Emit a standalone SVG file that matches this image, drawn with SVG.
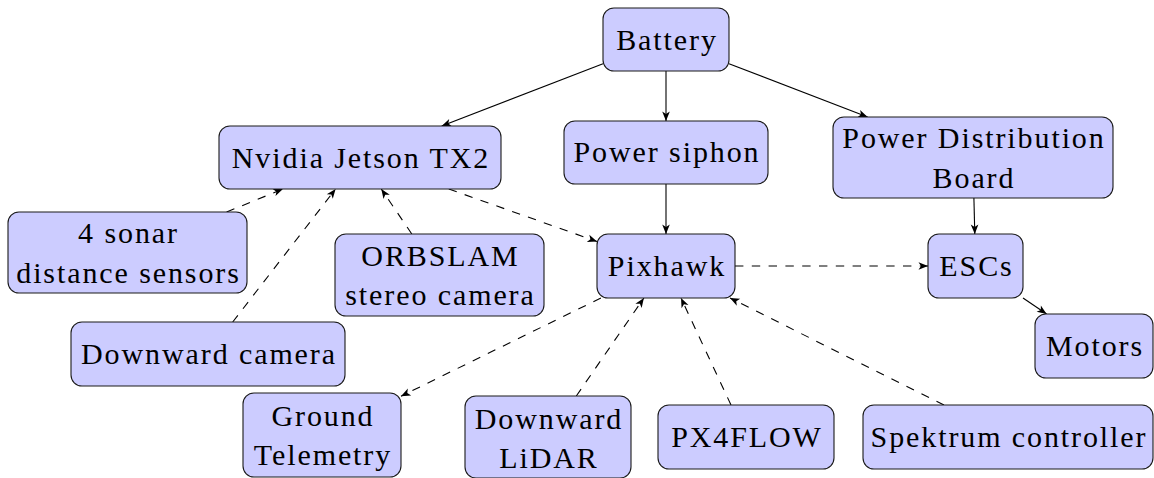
<svg xmlns="http://www.w3.org/2000/svg" width="1154" height="478" viewBox="0 0 1154 478">
<style>
.box{fill:#ccccff;stroke:#1a1a1a;stroke-width:1.1}
.t{fill:#000}
.c{fill:none;stroke:#000;stroke-width:1.1;marker-end:url(#arr)}
.d{stroke-dasharray:8.4 8.4}
</style>
<defs>
<marker id="arr" viewBox="-11 -5 12 10" refX="0" refY="0" markerWidth="12" markerHeight="10" markerUnits="userSpaceOnUse" orient="auto">
<path d="M0,0 L-9.5,-3.8 L-7,0 L-9.5,3.8 Z" fill="#000"/>
</marker>
</defs>
<rect width="1154" height="478" fill="#fff"/>
<g id="connectors">
<line class="c" x1="603" y1="63.8" x2="441.7" y2="126"/>
<line class="c" x1="666" y1="71" x2="666" y2="121"/>
<line class="c" x1="729" y1="63.7" x2="867.6" y2="117"/>
<line class="c" x1="666" y1="184" x2="666" y2="234"/>
<line class="c" x1="973.9" y1="198" x2="974.8" y2="234"/>
<line class="c" x1="1023" y1="298" x2="1046.6" y2="314"/>
<line class="c d" x1="226.6" y1="212" x2="282.9" y2="189"/>
<line class="c d" x1="232.7" y1="322" x2="335.6" y2="189"/>
<line class="c d" x1="411.8" y1="234" x2="381.3" y2="189"/>
<line class="c d" x1="448.8" y1="189" x2="597" y2="241.5"/>
<line class="c d" x1="735" y1="266" x2="928" y2="266"/>
<line class="c d" x1="600.9" y1="298" x2="401" y2="396.2"/>
<line class="c d" x1="576.3" y1="396" x2="643.9" y2="298"/>
<line class="c d" x1="731" y1="405" x2="681" y2="298"/>
<line class="c d" x1="944" y1="405" x2="730" y2="298"/>
</g>
<g id="battery"><rect class="box" x="603" y="8" width="126" height="63" rx="11"/><text class="t" font-size="30" font-family="'Liberation Serif', serif" text-anchor="middle" letter-spacing="1.9" x="667" y="49.5">Battery</text></g>
<g id="jetson"><rect class="box" x="219" y="126" width="282" height="63" rx="11"/><text class="t" font-size="30" font-family="'Liberation Serif', serif" text-anchor="middle" letter-spacing="1.9" x="361" y="167.5">Nvidia Jetson TX2</text></g>
<g id="siphon"><rect class="box" x="564" y="121" width="204" height="63" rx="11"/><text class="t" font-size="30" font-family="'Liberation Serif', serif" text-anchor="middle" letter-spacing="1.9" x="667" y="162">Power siphon</text></g>
<g id="pdb"><rect class="box" x="833" y="117" width="280" height="81" rx="11"/><text class="t" font-size="30" font-family="'Liberation Serif', serif" text-anchor="middle" letter-spacing="1.9" x="974" y="148">Power Distribution</text><text class="t" font-size="30" font-family="'Liberation Serif', serif" text-anchor="middle" letter-spacing="1.9" x="974" y="187.5">Board</text></g>
<g id="sonar"><rect class="box" x="8" y="212" width="239" height="81" rx="11"/><text class="t" font-size="30" font-family="'Liberation Serif', serif" text-anchor="middle" letter-spacing="1.9" x="128.5" y="243">4 sonar</text><text class="t" font-size="30" font-family="'Liberation Serif', serif" text-anchor="middle" letter-spacing="1.9" x="128.5" y="282.5">distance sensors</text></g>
<g id="orbslam"><rect class="box" x="335" y="234" width="209" height="82" rx="11"/><text class="t" font-size="30" font-family="'Liberation Serif', serif" text-anchor="middle" letter-spacing="1.9" x="440.5" y="265.5">ORBSLAM</text><text class="t" font-size="30" font-family="'Liberation Serif', serif" text-anchor="middle" letter-spacing="1.9" x="440.5" y="305">stereo camera</text></g>
<g id="pixhawk"><rect class="box" x="597" y="234" width="138" height="64" rx="11"/><text class="t" font-size="30" font-family="'Liberation Serif', serif" text-anchor="middle" letter-spacing="1.9" x="667" y="276">Pixhawk</text></g>
<g id="escs"><rect class="box" x="928" y="234" width="95" height="64" rx="11"/><text class="t" font-size="30" font-family="'Liberation Serif', serif" text-anchor="middle" letter-spacing="1.9" x="976.5" y="276">ESCs</text></g>
<g id="motors"><rect class="box" x="1035" y="314" width="118" height="64" rx="11"/><text class="t" font-size="30" font-family="'Liberation Serif', serif" text-anchor="middle" letter-spacing="1.9" x="1095" y="356">Motors</text></g>
<g id="downcam"><rect class="box" x="71" y="322" width="274" height="64" rx="11"/><text class="t" font-size="30" font-family="'Liberation Serif', serif" text-anchor="middle" letter-spacing="1.9" x="209" y="364">Downward camera</text></g>
<g id="telemetry"><rect class="box" x="243" y="393" width="158" height="84" rx="11"/><text class="t" font-size="30" font-family="'Liberation Serif', serif" text-anchor="middle" letter-spacing="1.9" x="323" y="425.5">Ground</text><text class="t" font-size="30" font-family="'Liberation Serif', serif" text-anchor="middle" letter-spacing="1.9" x="323" y="465">Telemetry</text></g>
<g id="lidar"><rect class="box" x="465" y="396" width="166" height="82" rx="11"/><text class="t" font-size="30" font-family="'Liberation Serif', serif" text-anchor="middle" letter-spacing="1.9" x="549" y="428.5">Downward</text><text class="t" font-size="30" font-family="'Liberation Serif', serif" text-anchor="middle" letter-spacing="1.9" x="549" y="467.5">LiDAR</text></g>
<g id="px4flow"><rect class="box" x="658" y="405" width="176" height="64" rx="11"/><text class="t" font-size="30" font-family="'Liberation Serif', serif" text-anchor="middle" letter-spacing="1.9" x="747" y="447">PX4FLOW</text></g>
<g id="spektrum"><rect class="box" x="863" y="405" width="290" height="64" rx="11"/><text class="t" font-size="30" font-family="'Liberation Serif', serif" text-anchor="middle" letter-spacing="1.9" x="1009" y="447">Spektrum controller</text></g>
</svg>
